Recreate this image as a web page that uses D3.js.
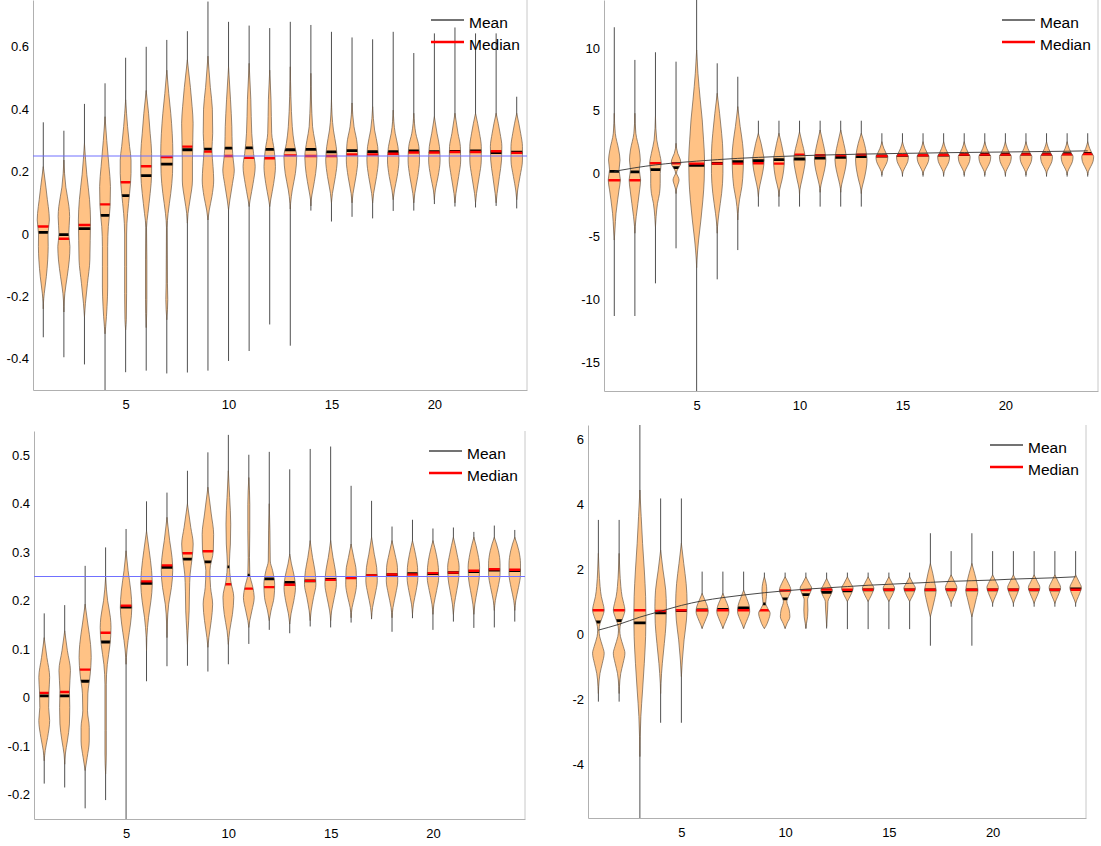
<!DOCTYPE html>
<html>
<head>
<meta charset="utf-8">
<title>Violin plots</title>
<script src="https://cdn.jsdelivr.net/npm/d3@7"></script>
<style>
  body { margin: 0; background: #fff; }
  svg { display: block; font-family: "Liberation Sans", Arial, sans-serif; }
</style>
</head>
<body>
<svg width="1101" height="846"></svg>
<script>
// step index on the x axis
const steps = [1,2,3,4,5,6,7,8,9,10,11,12,13,14,15,16,17,18,19,20,21,22,23,24];
const xTicks = [5, 10, 15, 20];

// ---- panel 1 (top left) ----
const p1Ticks = [-0.4, -0.2, 0, 0.2, 0.4, 0.6];
const p1Mean = [0.005,-0.002,0.017,0.06,0.123,0.187,0.224,0.27,0.272,0.275,0.276,0.271,0.27,0.271,0.263,0.267,0.264,0.264,0.266,0.264,0.265,0.266,0.261,0.262];
const p1Median = [0.024,-0.015,0.029,0.095,0.166,0.217,0.247,0.28,0.264,0.25,0.244,0.243,0.252,0.25,0.25,0.255,0.255,0.257,0.261,0.261,0.263,0.263,0.265,0.26];
const p1Min = [-0.331,-0.395,-0.418,-0.52,-0.443,-0.438,-0.447,-0.444,-0.438,-0.407,-0.375,-0.29,-0.358,0.075,0.04,0.055,0.05,0.074,0.075,0.096,0.088,0.085,0.09,0.082];
const p1Max = [0.358,0.331,0.417,0.483,0.565,0.6,0.622,0.65,0.745,0.68,0.668,0.66,0.68,0.67,0.648,0.63,0.624,0.648,0.58,0.643,0.662,0.643,0.643,0.44];
// density outline: [value, relative half width]
const p1Shape = [
  [[0.216,0],[0.15,0.4],[0.11,0.62],[0.066,0.87],[0.045,0.92],[0,0.72],[-0.04,0.74],[-0.083,0.67],[-0.137,0.46],[-0.19,0.15],[-0.222,0.02],[-0.24,0]],
  [[0.237,0],[0.15,0.3],[0.088,0.77],[0.056,0.87],[0,0.74],[-0.04,0.92],[-0.083,0.82],[-0.137,0.5],[-0.19,0.15],[-0.233,0.02],[-0.25,0]],
  [[0.29,0],[0.19,0.36],[0.11,0.77],[0.045,0.92],[-0.02,0.87],[-0.083,0.82],[-0.158,0.46],[-0.222,0.15],[-0.265,0]],
  [[0.376,0],[0.3,0.26],[0.216,0.6],[0.152,0.82],[0.088,0.77],[0.024,0.5],[-0.04,0.4],[-0.105,0.4],[-0.17,0.4],[-0.233,0.3],[-0.297,0.1],[-0.32,0]],
  [[0.43,0],[0.344,0.3],[0.28,0.6],[0.237,0.82],[0.194,0.82],[0.13,0.6],[0.066,0.3],[0,0.15],[-0.105,0.15],[-0.19,0.15],[-0.275,0.1],[-0.307,0]],
  [[0.46,0],[0.387,0.36],[0.323,0.6],[0.258,0.82],[0.194,0.82],[0.13,0.6],[0.066,0.26],[0.02,0.05],[-0.083,0.1],[-0.21,0.1],[-0.3,0]],
  [[0.525,0],[0.45,0.3],[0.387,0.6],[0.323,0.82],[0.258,0.92],[0.194,0.87],[0.13,0.6],[0.066,0.2],[0.02,0.05],[-0.158,0.1],[-0.21,0.15],[-0.275,0]],
  [[0.558,0],[0.47,0.46],[0.408,0.72],[0.355,0.87],[0.3,0.82],[0.237,0.77],[0.173,0.77],[0.109,0.4],[0.066,0.1],[0.035,0]],
  [[0.57,0],[0.47,0.36],[0.4,0.67],[0.323,0.72],[0.27,0.6],[0.216,0.77],[0.173,0.87],[0.12,0.6],[0.077,0.2],[0.045,0]],
  [[0.536,0],[0.43,0.3],[0.344,0.5],[0.28,0.56],[0.237,0.72],[0.205,0.87],[0.162,0.6],[0.109,0.2],[0.077,0]],
  [[0.547,0],[0.43,0.26],[0.323,0.4],[0.258,0.67],[0.216,0.92],[0.162,0.6],[0.109,0.15],[0.088,0]],
  [[0.525,0],[0.43,0.2],[0.323,0.3],[0.27,0.67],[0.216,0.87],[0.162,0.6],[0.109,0.15],[0.088,0]],
  [[0.536,0],[0.344,0.3],[0.29,0.6],[0.248,0.97],[0.194,0.77],[0.141,0.3],[0.098,0.05],[0.08,0]],
  [[0.515,0],[0.344,0.26],[0.3,0.6],[0.248,0.92],[0.194,0.72],[0.141,0.3],[0.109,0.05],[0.09,0]],
  [[0.43,0],[0.333,0.3],[0.28,0.72],[0.237,0.87],[0.184,0.6],[0.13,0.15],[0.1,0]],
  [[0.42,0],[0.344,0.3],[0.29,0.77],[0.237,0.87],[0.184,0.6],[0.13,0.15],[0.1,0]],
  [[0.408,0],[0.333,0.3],[0.28,0.77],[0.237,0.87],[0.184,0.6],[0.13,0.15],[0.1,0]],
  [[0.397,0],[0.323,0.3],[0.28,0.72],[0.237,0.87],[0.184,0.6],[0.141,0.2],[0.11,0]],
  [[0.387,0],[0.323,0.3],[0.28,0.77],[0.237,0.87],[0.184,0.6],[0.13,0.15],[0.1,0]],
  [[0.376,0],[0.323,0.4],[0.28,0.77],[0.237,0.87],[0.184,0.56],[0.141,0.15],[0.11,0]],
  [[0.387,0],[0.323,0.46],[0.28,0.82],[0.237,0.87],[0.184,0.56],[0.13,0.15],[0.1,0]],
  [[0.387,0],[0.323,0.6],[0.28,0.87],[0.237,0.87],[0.184,0.56],[0.13,0.15],[0.1,0]],
  [[0.387,0],[0.323,0.6],[0.28,0.87],[0.237,0.82],[0.184,0.5],[0.13,0.15],[0.1,0]],
  [[0.387,0],[0.323,0.6],[0.28,0.87],[0.237,0.87],[0.184,0.5],[0.141,0.15],[0.11,0]]
];

// ---- panel 2 (top right) ----
const p2Ticks = [-15, -10, -5, 0, 5, 10];
const p2Mean = [0.17,0.12,0.31,0.46,0.65,0.8,0.94,1.02,1.1,1.15,1.23,1.29,1.34,1.39,1.45,1.46,1.47,1.5,1.51,1.53,1.54,1.55,1.57,1.6];
const p2Median = [-0.54,-0.54,0.81,0.81,0.78,0.78,0.78,0.81,0.78,1.5,1.45,1.45,1.5,1.39,1.45,1.45,1.47,1.5,1.5,1.5,1.52,1.52,1.52,1.55];
const p2Min = [-11.35,-11.35,-8.75,-5.96,-18,-8.43,-6.1,-2.64,-2.64,-2.64,-2.64,-2.64,-2.64,-0.25,-0.25,-0.25,-0.25,-0.25,-0.25,-0.25,-0.25,-0.25,-0.25,-0.25];
const p2Max = [11.64,9.04,9.65,8.9,14.5,8.77,7.7,4.2,4.2,4.2,4.2,4.2,4.2,3.2,3.2,3.2,3.2,3.2,3.2,3.2,3.2,3.2,3.2,3.2];
const p2Trend = [0.17,0.45,0.68,0.85,0.98,1.1,1.2,1.28,1.35,1.41,1.46,1.5,1.54,1.57,1.6,1.62,1.65,1.67,1.69,1.71,1.73,1.75,1.77,1.8];
const p2Late = [[2.53,0],[2.0,0.3],[1.6,0.65],[1.34,0.9],[0.94,0.8],[0.54,0.45],[0.15,0.1],[-0.12,0]];
const p2Shape = [
  [[4.79,0],[3.2,0.15],[1.87,0.67],[1.07,0.87],[0.28,0.72],[-0.52,0.92],[-1.31,0.72],[-2.1,0.51],[-3.17,0.26],[-4.5,0.1],[-5.3,0]],
  [[4.79,0],[3.2,0.15],[1.87,0.67],[1.07,0.82],[0.28,0.67],[-0.52,0.87],[-1.31,0.72],[-2.38,0.46],[-3.44,0.2],[-4.24,0.05],[-4.76,0]],
  [[4.52,0],[2.67,0.2],[1.6,0.62],[0.81,0.87],[0.01,0.72],[-0.78,0.72],[-1.58,0.62],[-2.38,0.31],[-3.44,0.1],[-4.24,0]],
  [[2.4,0],[1.6,0.26],[1.07,0.67],[0.81,0.72],[0.54,0.51],[0.28,0.2],[0.01,0.08],[-0.25,0.3],[-0.52,0.46],[-0.85,0.3],[-1.31,0.05],[-1.6,0]],
  [[9.83,0],[7.98,0.2],[5.86,0.55],[4.26,0.85],[2.67,1.05],[1.07,1.2],[-0.52,1.15],[-2.1,0.95],[-3.7,0.65],[-5.3,0.3],[-6.9,0.05],[-7.5,0]],
  [[6.38,0],[4.79,0.36],[3.2,0.67],[1.6,0.87],[0.01,0.87],[-1.58,0.67],[-3.17,0.26],[-4.24,0.05],[-4.76,0]],
  [[5.32,0],[3.73,0.36],[2.4,0.72],[1.34,0.87],[0.28,0.82],[-1.05,0.62],[-2.1,0.26],[-3.17,0.05],[-3.7,0]],
  [[3.2,0],[2.4,0.41],[1.6,0.72],[1.07,0.87],[0.28,0.72],[-0.52,0.41],[-1.31,0.1],[-1.84,0]],
  [[3.2,0],[2.4,0.36],[1.6,0.67],[1.07,0.82],[0.28,0.72],[-0.52,0.46],[-1.31,0.1],[-1.84,0]],
  [[3.33,0],[2.4,0.41],[1.6,0.77],[1.07,0.87],[0.28,0.67],[-0.52,0.36],[-1.31,0.05],[-1.7,0]],
  [[3.46,0],[2.4,0.46],[1.6,0.77],[1.07,0.87],[0.28,0.67],[-0.52,0.31],[-1.18,0.05],[-1.5,0]],
  [[3.46,0],[2.4,0.46],[1.6,0.77],[1.07,0.87],[0.28,0.67],[-0.52,0.31],[-1.18,0.05],[-1.5,0]],
  [[3.2,0],[2.4,0.46],[1.6,0.77],[1.07,0.87],[0.28,0.72],[-0.52,0.41],[-1.31,0.05],[-1.6,0]],
  p2Late, p2Late, p2Late, p2Late, p2Late, p2Late, p2Late, p2Late, p2Late, p2Late, p2Late
];

// ---- panel 3 (bottom left) ----
const p3Ticks = [-0.2, -0.1, 0, 0.1, 0.2, 0.3, 0.4, 0.5];
const p3Mean = [0.004,0.004,0.034,0.115,0.187,0.236,0.269,0.286,0.28,0.27,0.253,0.245,0.238,0.241,0.244,0.248,0.252,0.254,0.256,0.256,0.258,0.26,0.263,0.262];
const p3Median = [0.01,0.012,0.058,0.134,0.19,0.24,0.273,0.298,0.302,0.234,0.225,0.228,0.233,0.241,0.243,0.247,0.252,0.254,0.254,0.257,0.258,0.262,0.265,0.264];
const p3Min = [-0.177,-0.185,-0.228,-0.211,-0.27,0.034,0.065,0.066,0.054,0.069,0.111,0.14,0.133,0.147,0.145,0.155,0.162,0.136,0.164,0.14,0.157,0.144,0.145,0.157];
const p3Max = [0.174,0.191,0.272,0.31,0.348,0.405,0.423,0.468,0.506,0.542,0.501,0.507,0.471,0.513,0.518,0.437,0.406,0.353,0.367,0.349,0.351,0.342,0.355,0.346];
const p3Shape = [
  [[0.124,0],[0.083,0.41],[0.042,0.82],[0.014,0.72],[-0.02,0.67],[-0.047,0.82],[-0.082,0.51],[-0.109,0.15],[-0.13,0]],
  [[0.138,0],[0.097,0.41],[0.056,0.87],[0.014,0.72],[-0.02,0.77],[-0.054,0.72],[-0.089,0.41],[-0.116,0.1],[-0.137,0]],
  [[0.193,0],[0.152,0.41],[0.11,0.82],[0.083,0.92],[0.049,0.77],[0.008,0.41],[-0.027,0.36],[-0.061,0.62],[-0.089,0.62],[-0.123,0.31],[-0.15,0]],
  [[0.248,0],[0.2,0.31],[0.166,0.72],[0.145,0.82],[0.11,0.67],[0.069,0.26],[0.028,0.1],[-0.068,0.1],[-0.116,0.1],[-0.157,0]],
  [[0.303,0],[0.262,0.31],[0.22,0.72],[0.186,0.87],[0.152,0.67],[0.118,0.31],[0.083,0.05],[0.069,0]],
  [[0.344,0],[0.303,0.41],[0.262,0.77],[0.234,0.87],[0.2,0.67],[0.166,0.31],[0.124,0.05],[0.097,0]],
  [[0.372,0],[0.324,0.41],[0.289,0.77],[0.262,0.87],[0.227,0.67],[0.193,0.26],[0.152,0.05],[0.124,0]],
  [[0.4,0],[0.351,0.51],[0.317,0.87],[0.289,0.72],[0.255,0.41],[0.22,0.31],[0.179,0.26],[0.138,0.1],[0.11,0]],
  [[0.434,0],[0.379,0.51],[0.337,0.87],[0.303,0.82],[0.262,0.31],[0.227,0.41],[0.193,0.72],[0.159,0.51],[0.124,0.15],[0.104,0]],
  [[0.468,0],[0.413,0.2],[0.358,0.36],[0.317,0.31],[0.276,0.15],[0.241,0.36],[0.207,0.82],[0.172,0.62],[0.138,0.2],[0.11,0]],
  [[0.454,0],[0.399,0.15],[0.344,0.15],[0.289,0.1],[0.255,0.15],[0.227,0.62],[0.207,0.82],[0.179,0.46],[0.159,0.15],[0.145,0]],
  [[0.4,0],[0.344,0.1],[0.282,0.15],[0.262,0.51],[0.234,0.82],[0.207,0.72],[0.179,0.26],[0.159,0]],
  [[0.296,0],[0.276,0.26],[0.248,0.72],[0.227,0.87],[0.2,0.62],[0.173,0.2],[0.152,0]],
  [[0.324,0],[0.289,0.36],[0.262,0.72],[0.234,0.87],[0.207,0.51],[0.179,0.15],[0.159,0]],
  [[0.324,0],[0.289,0.36],[0.262,0.72],[0.234,0.87],[0.207,0.56],[0.179,0.15],[0.159,0]],
  [[0.317,0],[0.289,0.41],[0.262,0.77],[0.234,0.82],[0.207,0.51],[0.186,0.15],[0.165,0]],
  [[0.331,0],[0.296,0.41],[0.269,0.77],[0.241,0.87],[0.214,0.56],[0.186,0.15],[0.165,0]],
  [[0.324,0],[0.296,0.46],[0.269,0.82],[0.241,0.87],[0.214,0.56],[0.186,0.15],[0.165,0]],
  [[0.324,0],[0.296,0.46],[0.269,0.77],[0.248,0.82],[0.221,0.56],[0.193,0.15],[0.172,0]],
  [[0.324,0],[0.296,0.51],[0.269,0.82],[0.248,0.87],[0.221,0.56],[0.193,0.15],[0.172,0]],
  [[0.331,0],[0.296,0.56],[0.269,0.87],[0.248,0.82],[0.221,0.51],[0.193,0.15],[0.172,0]],
  [[0.331,0],[0.296,0.62],[0.269,0.87],[0.248,0.82],[0.221,0.51],[0.193,0.15],[0.172,0]],
  [[0.331,0],[0.303,0.62],[0.276,0.87],[0.255,0.87],[0.227,0.56],[0.2,0.15],[0.18,0]],
  [[0.331,0],[0.303,0.62],[0.276,0.87],[0.255,0.87],[0.227,0.56],[0.2,0.15],[0.18,0]]
];

// ---- panel 4 (bottom right) ----
const p4Ticks = [-4, -2, 0, 2, 4, 6];
const p4Mean = [0.37,0.41,0.34,0.65,0.72,0.74,0.76,0.8,0.93,1.08,1.21,1.28,1.33,1.36,1.36,1.36,1.36,1.36,1.36,1.36,1.36,1.36,1.36,1.39];
const p4Median = [0.73,0.73,0.73,0.71,0.73,0.73,0.73,0.73,0.73,1.34,1.35,1.37,1.36,1.36,1.36,1.36,1.36,1.36,1.36,1.36,1.36,1.36,1.36,1.36];
const p4Min = [-2.08,-2.08,-6,-2.73,-2.73,0.17,0.17,0.17,0.17,0.17,0.17,0.17,0.15,0.15,0.15,0.15,-0.36,0.84,-0.36,0.84,0.84,0.84,0.84,0.84];
const p4Max = [3.51,3.51,7,4.17,4.17,1.92,1.92,1.92,1.89,1.89,1.89,1.89,1.89,1.89,1.89,1.89,3.1,2.55,3.1,2.55,2.55,2.55,2.55,2.55];
const p4Trend = [0.12,0.3,0.52,0.7,0.88,1.02,1.12,1.2,1.27,1.33,1.38,1.42,1.46,1.5,1.53,1.56,1.59,1.62,1.64,1.66,1.69,1.71,1.73,1.76];
const p4Bi = [[2.48,0],[1.97,0.1],[1.46,0.26],[1.15,0.45],[0.94,0.7],[0.74,0.88],[0.53,0.62],[0.33,0.26],[0.12,0.1],[-0.08,0.2],[-0.39,0.65],[-0.59,0.88],[-0.9,0.6],[-1.21,0.25],[-1.62,0.05],[-1.83,0]];
const p4Mid = [[1.25,0],[1.05,0.41],[0.84,0.82],[0.69,0.92],[0.48,0.62],[0.28,0.2],[0.17,0]];
const p4Small = [[1.76,0],[1.56,0.51],[1.41,0.87],[1.25,0.62],[1.1,0.26],[1.0,0]];
const p4Wide = [[2.17,0],[1.87,0.36],[1.56,0.67],[1.35,0.87],[1.05,0.62],[0.74,0.26],[0.53,0]];
const p4Late = [[1.82,0],[1.61,0.51],[1.43,0.87],[1.25,0.62],[1.05,0.2],[0.94,0]];
const p4Shape = [
  p4Bi, p4Bi,
  [[4.43,0],[3.61,0.2],[2.79,0.41],[1.97,0.67],[1.15,0.87],[0.53,0.92],[-0.08,0.87],[-0.9,0.67],[-1.72,0.41],[-2.54,0.15],[-3.16,0.05],[-3.77,0]],
  [[2.58,0],[1.97,0.36],[1.35,0.77],[0.84,0.87],[0.33,0.82],[-0.29,0.56],[-0.9,0.26],[-1.52,0.05],[-1.83,0]],
  [[2.79,0],[2.17,0.36],[1.56,0.72],[0.94,0.87],[0.43,0.77],[-0.18,0.41],[-0.8,0.15],[-1.31,0]],
  p4Mid, p4Mid,
  [[1.35,0],[1.1,0.46],[0.89,0.82],[0.69,0.92],[0.48,0.62],[0.28,0.2],[0.17,0]],
  [[1.76,0],[1.56,0.26],[1.35,0.36],[1.15,0.31],[0.94,0.2],[0.79,0.51],[0.64,0.87],[0.43,0.62],[0.23,0.2],[0.17,0]],
  [[1.76,0],[1.56,0.51],[1.35,0.87],[1.15,0.51],[1.0,0.26],[0.74,0.62],[0.53,0.72],[0.33,0.31],[0.17,0]],
  [[1.76,0],[1.56,0.51],[1.41,0.87],[1.25,0.62],[1.05,0.26],[0.74,0.31],[0.53,0.26],[0.33,0.1],[0.17,0]],
  [[1.71,0],[1.5,0.51],[1.35,0.87],[1.2,0.62],[1.0,0.2],[0.74,0.15],[0.43,0.05],[0.23,0]],
  p4Small, p4Small, p4Small, p4Small,
  p4Wide, p4Late,
  [[2.17,0],[1.87,0.41],[1.56,0.77],[1.35,0.92],[1.05,0.62],[0.74,0.26],[0.53,0]],
  p4Late, p4Late, p4Late, p4Late, p4Late
];

// layout of the four panels
const panels = [
  { left: 33, right: 527, top: 0, bottom: 390, domain: [-0.5, 0.75], ticks: p1Ticks, ref: 0.25,
    mean: p1Mean, median: p1Median, min: p1Min, max: p1Max, shape: p1Shape },
  { left: 604, right: 1098, top: 0, bottom: 391, domain: [-17.32, 13.81], ticks: p2Ticks, trend: p2Trend,
    mean: p2Mean, median: p2Median, min: p2Min, max: p2Max, shape: p2Shape },
  { left: 34, right: 525, top: 431, bottom: 819, domain: [-0.25, 0.55], ticks: p3Ticks, ref: 0.25,
    mean: p3Mean, median: p3Median, min: p3Min, max: p3Max, shape: p3Shape },
  { left: 588, right: 1086, top: 425, bottom: 818, domain: [-5.66, 6.43], ticks: p4Ticks, trend: p4Trend,
    mean: p4Mean, median: p4Median, min: p4Min, max: p4Max, shape: p4Shape }
];

const svg = d3.select("svg");
const halfW = 6.6;   // px for a relative width of 1
const fill = "#ffc285";

panels.forEach((p, pi) => {
  const x = d3.scaleLinear().domain([0.5, 24.5]).range([p.left, p.right]);
  const y = d3.scaleLinear().domain(p.domain).range([p.bottom, p.top]);
  const g = svg.append("g");

  g.append("clipPath").attr("id", `plot${pi}`)
    .append("rect")
    .attr("x", p.left).attr("y", p.top)
    .attr("width", p.right - p.left).attr("height", p.bottom - p.top);

  // axes, no tick marks
  g.append("g")
    .attr("transform", `translate(${p.left},0)`)
    .call(d3.axisLeft(y).tickValues(p.ticks).tickSize(0).tickPadding(4).tickFormat(d => String(d)))
    .call(a => a.select(".domain").attr("stroke", "#b0b0b0"));

  g.append("g")
    .attr("transform", `translate(0,${p.bottom})`)
    .call(d3.axisBottom(x).tickValues(xTicks).tickSize(0).tickPadding(10).tickFormat(d => String(d)))
    .call(a => a.select(".domain").attr("stroke", "#b0b0b0"));

  g.selectAll(".tick text").attr("font-size", 13).attr("fill", "#000")
    .attr("font-family", '"Liberation Sans", Arial, sans-serif');

  g.append("line")
    .attr("x1", p.right).attr("x2", p.right)
    .attr("y1", p.top).attr("y2", p.bottom)
    .attr("stroke", "#c8c8c8");

  const plot = g.append("g").attr("clip-path", `url(#plot${pi})`);

  // whiskers
  plot.selectAll(".whisker")
    .data(steps)
    .join("line")
    .attr("class", "whisker")
    .attr("x1", s => x(s)).attr("x2", s => x(s))
    .attr("y1", (s, i) => y(p.max[i]))
    .attr("y2", (s, i) => y(p.min[i]))
    .attr("stroke", "#505050")
    .attr("stroke-width", 1);

  steps.forEach((s, i) => {
    const cx = x(s);
    const pts = p.shape[i].slice().sort((a, b) => b[0] - a[0]);
    const area = d3.area()
      .y(d => y(d[0]))
      .x0(d => cx - d[1] * halfW)
      .x1(d => cx + d[1] * halfW)
      .curve(d3.curveMonotoneY);
    const d = area(pts);
    const id = `v${pi}_${i}`;

    g.append("clipPath").attr("id", id).append("path").attr("d", d);

    const vg = plot.append("g");
    vg.append("path").attr("d", d).attr("fill", fill);

    const lines = vg.append("g").attr("clip-path", `url(#${id})`);
    lines.append("line")
      .attr("x1", cx - 12).attr("x2", cx + 12)
      .attr("y1", y(p.mean[i])).attr("y2", y(p.mean[i]))
      .attr("stroke", "#000").attr("stroke-width", 2.8);
    lines.append("line")
      .attr("x1", cx - 12).attr("x2", cx + 12)
      .attr("y1", y(p.median[i])).attr("y2", y(p.median[i]))
      .attr("stroke", "#ff0000").attr("stroke-width", 2.4);

    vg.append("path").attr("d", d)
      .attr("fill", "none")
      .attr("stroke", "#6a5a4a")
      .attr("stroke-width", 0.7);
  });

  if (p.ref !== undefined) {
    plot.append("line")
      .attr("x1", p.left).attr("x2", p.right)
      .attr("y1", y(p.ref)).attr("y2", y(p.ref))
      .attr("stroke", "#7070ff").attr("stroke-width", 1);
  }

  if (p.trend) {
    const line = d3.line()
      .x(s => x(s))
      .y((s, i) => y(p.trend[i]))
      .curve(d3.curveMonotoneX);
    plot.append("path")
      .attr("d", line(steps))
      .attr("fill", "none")
      .attr("stroke", "#333")
      .attr("stroke-width", 0.9);
  }

  // legend
  const lg = g.append("g").attr("transform", `translate(${p.right - 96},${p.top + 20})`);
  lg.append("line").attr("x1", 0).attr("x2", 33).attr("y1", 0).attr("y2", 0)
    .attr("stroke", "#444").attr("stroke-width", 1.5);
  lg.append("line").attr("x1", 0).attr("x2", 33).attr("y1", 22).attr("y2", 22)
    .attr("stroke", "#ff0000").attr("stroke-width", 2.5);
  lg.append("text").attr("x", 38).attr("y", 8).attr("font-size", 15.5).text("Mean");
  lg.append("text").attr("x", 38).attr("y", 30).attr("font-size", 15.5).text("Median");
});
</script>
</body>
</html>
